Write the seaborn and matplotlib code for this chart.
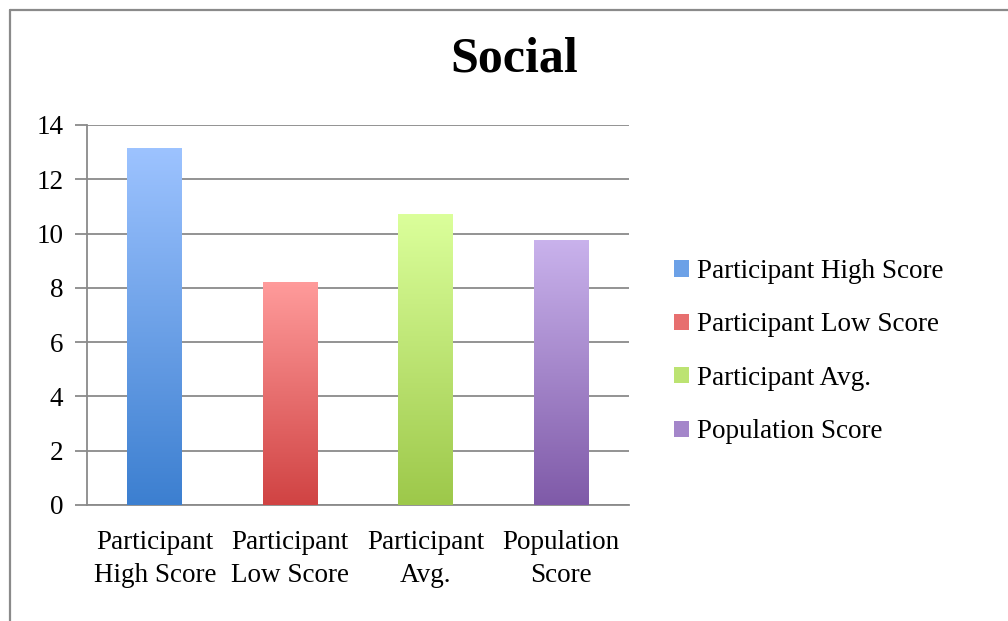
import numpy as np
import pandas as pd
import matplotlib
matplotlib.use("Agg")
import matplotlib.pyplot as plt
import seaborn as sns
from matplotlib.colors import LinearSegmentedColormap
from matplotlib.patches import Patch
from matplotlib.lines import Line2D

# Data
categories = ["Participant High Score", "Participant Low Score",
              "Participant Avg.", "Population Score"]
tick_labels = ["Participant\nHigh Score", "Participant\nLow Score",
               "Participant\nAvg.", "Population\nScore"]
scores = [13.15, 8.2, 10.7, 9.75]

# gradient colours (top, bottom) per bar
top_colors = ["#9dc3ff", "#ff9b9b", "#dbff9b", "#c9b2ec"]
bottom_colors = ["#3c7fd0", "#d04343", "#9dc84a", "#7f5aa8"]

df = pd.DataFrame({"category": categories, "score": scores})

sns.set_style("white")
plt.rcParams["font.family"] = ["Liberation Serif", "DejaVu Serif"]
plt.rcParams["text.color"] = "black"
plt.rcParams["xtick.labelcolor"] = "black"
plt.rcParams["ytick.labelcolor"] = "black"

fig = plt.figure(figsize=(10.08, 6.21), dpi=100)
ax = fig.add_axes([87 / 1008, 1 - 505 / 621, (629 - 87) / 1008, (505 - 125) / 621])

sns.barplot(data=df, x="category", y="score", ax=ax, width=0.405,
            color="white", linewidth=0, saturation=1)

# paint vertical gradients over the bars
for patch, c_top, c_bot in zip(ax.patches, top_colors, bottom_colors):
    x0, y0 = patch.get_x(), patch.get_y()
    w, h = patch.get_width(), patch.get_height()
    cmap = LinearSegmentedColormap.from_list("g", [c_bot, c_top])
    grad = np.linspace(0, 1, 256).reshape(-1, 1)
    ax.imshow(grad, extent=[x0, x0 + w, y0, y0 + h], origin="lower",
              cmap=cmap, aspect="auto", zorder=3)
    patch.set_visible(False)

ax.set_xlim(-0.5, 3.5)
ax.set_ylim(0, 14)
ax.set_yticks(range(0, 15, 2))
ax.set_xticks(range(4))
ax.set_xticklabels(tick_labels, fontsize=19.5, linespacing=1.4)
ax.set_xticks(np.arange(-0.5, 4, 1), minor=True)
ax.tick_params(axis="x", which="major", length=0, pad=18)
ax.tick_params(axis="x", which="minor", length=8, width=1.3, color="#8a8a8a",
               direction="out")
ax.tick_params(axis="y", length=9, width=1.3, color="#8a8a8a", labelsize=19.5,
               pad=8, direction="out", left=True)
ax.set_xlabel("")
ax.set_ylabel("")
ax.grid(axis="y", color="#8a8a8a", linewidth=1.3, zorder=0)
ax.set_axisbelow(True)
for side in ["top", "right"]:
    ax.spines[side].set_visible(False)
for side in ["left", "bottom"]:
    ax.spines[side].set_color("#8a8a8a")
    ax.spines[side].set_linewidth(1.3)

fig.text(514 / 1008, 1 - 60 / 621, "Social", ha="center", va="center",
         fontsize=36, fontweight="bold", color="black")

# legend
handles = [Patch(facecolor=sns.blend_palette([t, b], 3)[1], edgecolor="none")
           for t, b in zip(top_colors, bottom_colors)]
fig.legend(handles, categories, loc="upper left",
           bbox_to_anchor=(674 / 1008, 1 - 259 / 621), frameon=False,
           fontsize=19.5, handlelength=0.55, handleheight=0.55,
           handletextpad=0.3, labelspacing=1.05, borderpad=0, borderaxespad=0)

# outer chart border (top and left visible)
fig.add_artist(Line2D([9.5 / 1008, 9.5 / 1008], [0, 1 - 9.5 / 621],
                      color="#8a8a8a", linewidth=1.6))
fig.add_artist(Line2D([9.5 / 1008, 1], [1 - 9.5 / 621, 1 - 9.5 / 621],
                      color="#8a8a8a", linewidth=1.6))

fig.savefig("out.png", dpi=100)
